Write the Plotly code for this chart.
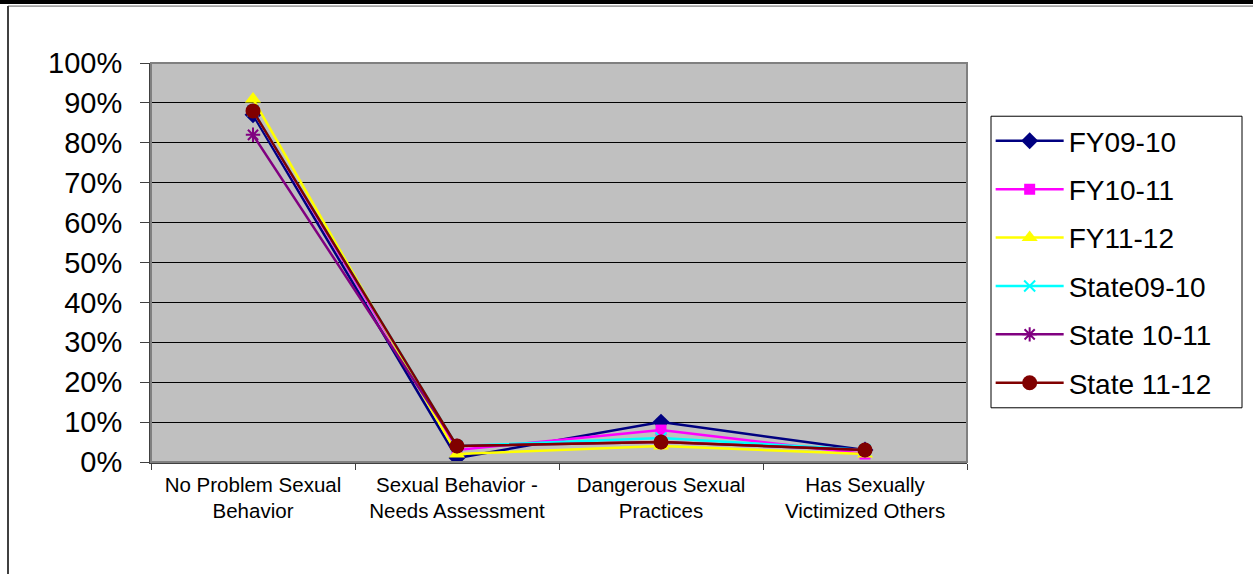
import plotly.graph_objects as go

categories = ["No Problem Sexual<br>Behavior", "Sexual Behavior -<br>Needs Assessment",
              "Dangerous Sexual<br>Practices", "Has Sexually<br>Victimized Others"]

fy09_10 = [87, 1, 10, 3]
fy10_11 = [88, 3, 8, 2]
fy11_12 = [91, 2, 4, 2]
state09_10 = [88, 4, 6, 3]
state10_11 = [82, 4, 5, 3]
state11_12 = [88, 4, 5, 3]

y_ticks = [0, 10, 20, 30, 40, 50, 60, 70, 80, 90, 100]
y_tick_labels = [f"{v}%" for v in y_ticks]

series = [
    ("FY09-10", fy09_10, "#000080", "diamond", 13),
    ("FY10-11", fy10_11, "#FF00FF", "square", 11),
    ("FY11-12", fy11_12, "#FFFF00", "triangle-up", 14),
    ("State09-10", state09_10, "#00FFFF", "x-thin", 11),
    ("State 10-11", state10_11, "#800080", "asterisk", 12),
    ("State 11-12", state11_12, "#800000", "circle", 15),
]

fig = go.Figure()
for i, (name, vals, color, sym, size) in enumerate(series):
    fig.add_trace(go.Scatter(
        x=categories, y=vals, name=name, mode="lines+markers",
        legendgroup=f"g{i}",
        line=dict(color=color, width=2.5),
        marker=dict(symbol=sym, size=size, color=color,
                    line=dict(color=color, width=2 if sym in ("x-thin", "asterisk") else 0)),
    ))

fig.update_layout(
    width=1253, height=574,
    margin=dict(l=151, r=286, t=63, b=112),
    paper_bgcolor="white", plot_bgcolor="#C0C0C0",
    font=dict(family="Liberation Sans, Arial, sans-serif", color="black"),
    showlegend=True,
    legend=dict(
        x=1.029, y=0.867, xanchor="left", yanchor="top",
        bgcolor="rgba(0,0,0,0)", borderwidth=0,
        font=dict(size=28, family="Liberation Sans, Arial, sans-serif"),
        traceorder="grouped", tracegroupgap=9, itemwidth=68,
    ),
    xaxis=dict(
        type="category", showgrid=False, tickson="boundaries",
        ticks="outside", ticklen=6, tickcolor="#404040",
        showline=True, linecolor="#404040", linewidth=2,
        tickfont=dict(size=20.5), ticklabelstandoff=3,
        range=[-0.5, 3.5],
    ),
    yaxis=dict(
        range=[0, 100], tickvals=y_ticks, ticktext=y_tick_labels,
        showgrid=True, gridcolor="black", gridwidth=1,
        ticks="outside", ticklen=9, tickcolor="#404040",
        showline=True, linecolor="#404040", linewidth=2,
        tickfont=dict(size=29), ticklabelstandoff=12,
        zeroline=False,
    ),
    shapes=[
        dict(type="rect", xref="paper", yref="paper", x0=0, x1=1, y0=0, y1=1,
             line=dict(color="#808080", width=2), layer="above"),
        dict(type="rect", xref="paper", yref="paper",
             x0=(991 - 151) / 816, x1=(1242 - 151) / 816,
             y0=(462.3 - 408) / 399.6, y1=(462.3 - 116) / 399.6,
             line=dict(color="black", width=1), fillcolor="white", layer="below"),
        dict(type="line", xref="paper", yref="paper", x0=-0.2, x1=1.4,
             y0=1 + 61 / 399.6, y1=1 + 61 / 399.6, line=dict(color="black", width=4)),
        dict(type="line", xref="paper", yref="paper", x0=(8 - 151) / 816, x1=1.4,
             y0=1 + 57 / 399.6, y1=1 + 57 / 399.6, line=dict(color="#606060", width=1)),
        dict(type="line", xref="paper", yref="paper", x0=(8 - 151) / 816, x1=(8 - 151) / 816,
             y0=1 + 57 / 399.6, y1=-0.3, line=dict(color="#404040", width=2)),
    ],
)

fig.write_html("out.html", post_script="document.body.style.margin='0';",
               config={"displayModeBar": False})
